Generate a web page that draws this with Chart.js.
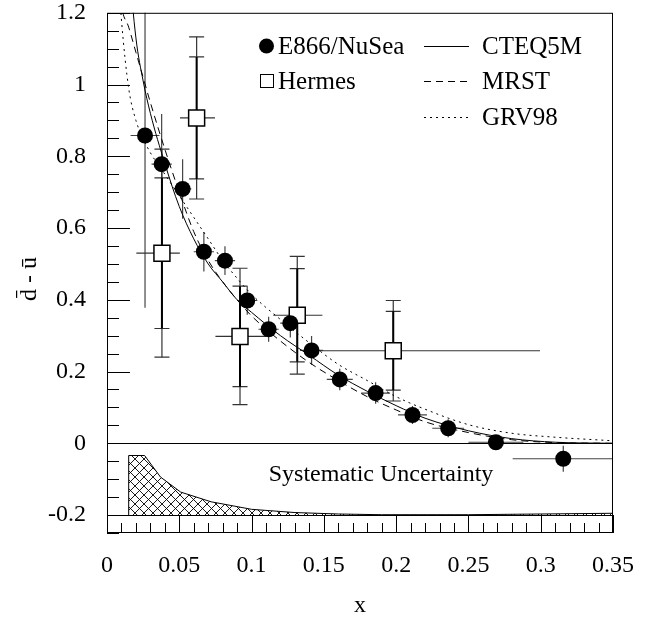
<!DOCTYPE html>
<html>
<head>
<meta charset="utf-8">
<script src="https://cdn.jsdelivr.net/npm/chart.js@4.4.1/dist/chart.umd.min.js"></script>
<style>
  html, body { margin: 0; padding: 0; background: #fff; }
  canvas { display: block; }
</style>
</head>
<body>
<canvas id="chart" width="663" height="617"></canvas>
<script>
// E866/NuSea points
const e866X = [0.0263, 0.0378, 0.0523, 0.067, 0.0816, 0.097, 0.1118, 0.1268, 0.1415, 0.161, 0.1858, 0.2113, 0.236, 0.269, 0.3156];
const e866Y = [0.858, 0.778, 0.709, 0.534, 0.509, 0.398, 0.318, 0.335, 0.259, 0.178, 0.140, 0.079, 0.042, 0.003, -0.043];
const e866YErr = [0.48, 0.14, 0.083, 0.055, 0.04, 0.04, 0.035, 0.04, 0.04, 0.03, 0.03, 0.025, 0.025, 0.02, 0.036];
const e866XErr = [0.01, 0.007, 0.006, 0.007, 0.007, 0.007, 0.007, 0.007, 0.008, 0.009, 0.01, 0.01, 0.011, 0.019, 0.035];

// Hermes points (stat = inner bar, tot = outer bar)
const hermesX = [0.038, 0.062, 0.092, 0.1316, 0.198];
const hermesY = [0.53, 0.907, 0.298, 0.357, 0.258];
const hermesXLo = [0.0203, 0.0505, 0.075, 0.115, 0.147];
const hermesXHi = [0.0504, 0.0747, 0.110, 0.149, 0.2995];
const hermesStat = [0.21, 0.17, 0.14, 0.13, 0.11];
const hermesTot = [0.29, 0.226, 0.19, 0.164, 0.14];

// parametrisations
const curveX = [0.008, 0.01, 0.015, 0.02, 0.025, 0.03, 0.04, 0.05, 0.06, 0.07, 0.08, 0.09, 0.1, 0.12, 0.14, 0.16, 0.18, 0.2, 0.22, 0.25, 0.28, 0.31, 0.35];
const cteq5m = [1.95, 1.65, 1.35, 1.13, 1.01, 0.92, 0.78, 0.66, 0.57, 0.50, 0.45, 0.40, 0.365, 0.30, 0.245, 0.19, 0.145, 0.105, 0.07, 0.035, 0.013, 0.003, 0.0];
const mrst = [1.3, 1.22, 1.16, 1.09, 1.02, 0.95, 0.82, 0.70, 0.59, 0.51, 0.45, 0.40, 0.355, 0.285, 0.225, 0.175, 0.13, 0.093, 0.06, 0.03, 0.01, 0.002, 0.0];
const grv98 = [1.3, 1.18, 0.99, 0.90, 0.85, 0.81, 0.75, 0.69, 0.63, 0.57, 0.51, 0.46, 0.415, 0.345, 0.28, 0.22, 0.175, 0.13, 0.095, 0.052, 0.028, 0.017, 0.007];

// systematic uncertainty band (drawn above the -0.2 baseline)
const sysX = [0.015, 0.015, 0.026, 0.037, 0.051, 0.072, 0.1, 0.13, 0.16, 0.19, 0.25, 0.3, 0.35];
const sysY = [-0.2, -0.034, -0.034, -0.094, -0.136, -0.163, -0.184, -0.193, -0.197, -0.199, -0.199, -0.197, -0.195];
const sysBase = -0.2;

// axis ticks
const yMajor = [-0.2, 0, 0.2, 0.4, 0.6, 0.8, 1, 1.2];
const xMajor = [0, 0.05, 0.1, 0.15, 0.2, 0.25, 0.3, 0.35];
const yMinorStep = 0.05;
const xMinorStep = 0.01;

const FONT = 'Liberation Serif';

const pts = (xs, ys) => xs.map((v, i) => ({ x: v, y: ys[i] }));
const isMajor = (v, list) => list.some(m => Math.abs(m - v) < 1e-6);

function hatchPattern() {
    const c = document.createElement('canvas');
    c.width = 9; c.height = 9;
    const g = c.getContext('2d');
    g.strokeStyle = '#000';
    g.lineWidth = 0.9;
    g.beginPath();
    g.moveTo(-1, -1); g.lineTo(10, 10);
    g.moveTo(10, -1); g.lineTo(-1, 10);
    g.stroke();
    return g.createPattern(c, 'repeat');
}

function seg(ctx, x1, y1, x2, y2) {
    ctx.beginPath();
    ctx.moveTo(x1, y1);
    ctx.lineTo(x2, y2);
    ctx.stroke();
}

const errorBars = {
    id: 'errorBars',
    beforeDatasetsDraw(chart) {
        const { ctx, chartArea: a, scales: { x, y } } = chart;
        ctx.save();
        ctx.beginPath();
        ctx.rect(a.left, a.top, a.right - a.left, a.bottom - a.top);
        ctx.clip();

        // E866
        ctx.strokeStyle = '#444';
        ctx.lineWidth = 1.2;
        e866X.forEach((v, i) => {
            const px = x.getPixelForValue(v), py = y.getPixelForValue(e866Y[i]);
            seg(ctx, x.getPixelForValue(v - e866XErr[i]), py, x.getPixelForValue(v + e866XErr[i]), py);
            seg(ctx, px, y.getPixelForValue(e866Y[i] - e866YErr[i]), px, y.getPixelForValue(e866Y[i] + e866YErr[i]));
        });

        // Hermes
        hermesX.forEach((v, i) => {
            const px = x.getPixelForValue(v), py = y.getPixelForValue(hermesY[i]);
            ctx.strokeStyle = '#333';
            ctx.lineWidth = 1.2;
            seg(ctx, x.getPixelForValue(hermesXLo[i]), py, x.getPixelForValue(hermesXHi[i]), py);
            const t1 = y.getPixelForValue(hermesY[i] + hermesTot[i]);
            const t2 = y.getPixelForValue(hermesY[i] - hermesTot[i]);
            const s1 = y.getPixelForValue(hermesY[i] + hermesStat[i]);
            const s2 = y.getPixelForValue(hermesY[i] - hermesStat[i]);
            seg(ctx, px, t1, px, t2);
            [t1, t2, s1, s2].forEach(c => seg(ctx, px - 7.5, c, px + 7.5, c));
            ctx.strokeStyle = '#000';
            ctx.lineWidth = 2;
            seg(ctx, px, s1, px, s2);
        });
        ctx.restore();
    },
    afterDatasetsDraw(chart) {
        const { ctx, chartArea: a, scales: { x, y } } = chart;
        ctx.save();
        ctx.strokeStyle = '#000';
        ctx.lineWidth = 1;
        // frame
        ctx.strokeRect(a.left + 0.5, a.top + 0.5, a.right - a.left - 1, a.bottom - a.top - 1);
        // zero line and baseline of the systematic panel
        [0, sysBase].forEach(v => {
            const py = Math.round(y.getPixelForValue(v)) + 0.5;
            seg(ctx, a.left, py, a.right, py);
        });
        // ticks inside the frame
        y.ticks.forEach(t => {
            const py = Math.round(y.getPixelForValue(t.value)) + 0.5;
            seg(ctx, a.left, py, a.left + (isMajor(t.value, yMajor) ? 23 : 12), py);
        });
        x.ticks.forEach(t => {
            const px = Math.round(x.getPixelForValue(t.value)) + 0.5;
            seg(ctx, px, a.bottom, px, a.bottom - (isMajor(t.value, xMajor) ? 18 : 10));
        });
        ctx.restore();
    },
    afterDraw(chart) {
        const { ctx } = chart;
        ctx.save();
        ctx.fillStyle = '#000';
        ctx.strokeStyle = '#000';
        ctx.font = '25px "' + FONT + '"';
        ctx.textBaseline = 'middle';

        // legend, left column
        ctx.beginPath();
        ctx.arc(266.5, 46, 7.5, 0, Math.PI * 2);
        ctx.fill();
        ctx.fillText('E866/NuSea', 278, 47);
        ctx.lineWidth = 1;
        ctx.strokeRect(260.5, 74.5, 13, 13);
        ctx.fillText('Hermes', 278, 82);

        // legend, right column
        const rows = [
            { y: 46, dash: [], label: 'CTEQ5M' },
            { y: 81, dash: [7, 5], label: 'MRST' },
            { y: 117, dash: [2, 4], label: 'GRV98' }
        ];
        rows.forEach(r => {
            ctx.setLineDash(r.dash);
            seg(ctx, 424, r.y + 0.5, 469, r.y + 0.5);
            ctx.setLineDash([]);
            ctx.fillText(r.label, 482, r.y + 1);
        });

        ctx.font = '24px "' + FONT + '"';
        ctx.textAlign = 'center';
        ctx.fillText('Systematic Uncertainty', 381, 475);
        ctx.restore();
    }
};

const yTickValues = () => {
    const out = [];
    for (let k = -5; k <= 24; k++) out.push(k * yMinorStep);
    return out;
};
const xTickValues = () => {
    const out = [];
    for (let k = 0; k <= 35; k++) out.push(k * xMinorStep);
    return out;
};

const curveStyle = {
    showLine: true,
    pointRadius: 0,
    borderColor: '#000',
    borderWidth: 1,
    fill: false,
    cubicInterpolationMode: 'monotone'
};

new Chart(document.getElementById('chart'), {
    type: 'scatter',
    data: {
        datasets: [
            {
                label: 'E866/NuSea',
                data: pts(e866X, e866Y),
                pointStyle: 'circle',
                pointRadius: 8,
                backgroundColor: '#000',
                borderColor: '#000',
                borderWidth: 0,
                order: 0
            },
            {
                label: 'Hermes',
                data: pts(hermesX, hermesY),
                pointStyle: 'rect',
                pointRadius: 11.3,
                backgroundColor: '#fff',
                borderColor: '#000',
                borderWidth: 1.5,
                order: 1
            },
            Object.assign({ label: 'CTEQ5M', data: pts(curveX, cteq5m), order: 2 }, curveStyle),
            Object.assign({ label: 'MRST', data: pts(curveX, mrst), borderDash: [7, 5], order: 2 }, curveStyle),
            Object.assign({ label: 'GRV98', data: pts(curveX, grv98), borderDash: [2, 4], order: 2 }, curveStyle),
            {
                label: 'Systematic Uncertainty',
                data: pts(sysX, sysY),
                showLine: true,
                pointRadius: 0,
                tension: 0,
                borderColor: '#000',
                borderWidth: 1,
                backgroundColor: hatchPattern(),
                fill: { value: sysBase },
                order: 3
            }
        ]
    },
    options: {
        responsive: false,
        devicePixelRatio: 1,
        animation: false,
        events: [],
        layout: { padding: { top: 9, right: 50, left: 0, bottom: 0 } },
        plugins: { legend: { display: false }, tooltip: { enabled: false } },
        scales: {
            x: {
                type: 'linear',
                min: 0,
                max: 0.35,
                grid: { display: false },
                border: { display: false },
                afterBuildTicks: s => { s.ticks = xTickValues().map(v => ({ value: v })); },
                afterFit: s => { s.height = 84; s.paddingLeft = 0; s.paddingRight = 0; },
                ticks: {
                    autoSkip: false,
                    maxRotation: 0,
                    padding: 10,
                    color: '#000',
                    font: { family: FONT, size: 24 },
                    callback: v => isMajor(v, xMajor) ? String(Math.round(v * 100) / 100) : ''
                },
                title: {
                    display: true,
                    text: 'x',
                    color: '#000',
                    font: { family: FONT, size: 24 },
                    padding: { top: 0, bottom: -3 }
                }
            },
            y: {
                type: 'linear',
                min: -0.25,
                max: 1.2,
                grid: { display: false },
                border: { display: false },
                afterBuildTicks: s => { s.ticks = yTickValues().map(v => ({ value: v })); },
                afterFit: s => { s.width = 107; s.paddingTop = 0; s.paddingBottom = 0; },
                ticks: {
                    autoSkip: false,
                    padding: 13,
                    color: '#000',
                    font: { family: FONT, size: 24 },
                    callback: v => isMajor(v, yMajor) ? String(Math.round(v * 100) / 100) : ''
                },
                title: {
                    display: true,
                    text: 'd\u0304 - u\u0304\u2002',
                    color: '#000',
                    font: { family: FONT, size: 24 },
                    padding: { top: 15, bottom: 0 }
                }
            }
        }
    },
    plugins: [errorBars]
});
</script>
</body>
</html>
